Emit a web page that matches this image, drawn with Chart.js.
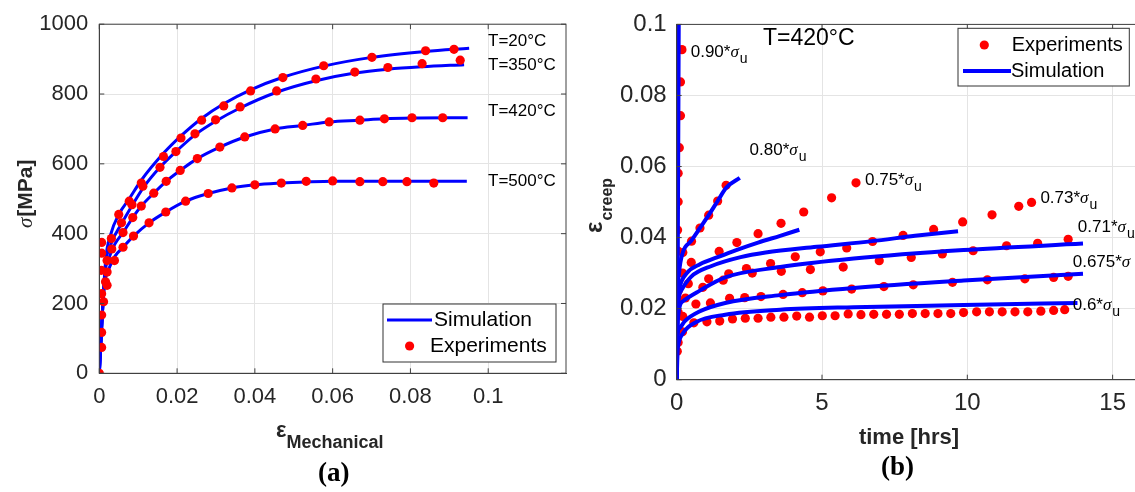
<!DOCTYPE html>
<html lang="en">
<head>
<meta charset="UTF-8">
<title>Tensile and creep curves</title>
<script src="https://cdn.jsdelivr.net/npm/chart.js"></script>
<style>
  body { margin: 0; background: #fff; width: 1135px; height: 492px; overflow: hidden; position: relative; }
  #wrapA { position: absolute; left: 0; top: 0; }
  #wrapB { position: absolute; left: 560px; top: 0; }
  .cap { position: absolute; font-family: 'Liberation Serif', 'Times New Roman', serif; font-weight: bold; font-size: 27px; color: #000; }
</style>
</head>
<body>
<div id="wrapA"><canvas id="chartA" width="580" height="492"></canvas></div>
<div id="wrapB"><canvas id="chartB" width="600" height="492"></canvas></div>
<div class="cap" style="left:318px;top:457px">(a)</div>
<div class="cap" style="left:881px;top:451px">(b)</div>
<script>
// ---- (a) tensile curves: strain [-], stress [MPa]
const strainTicks = [0, 0.02, 0.04, 0.06, 0.08, 0.1];
const stressTicks = [0, 200, 400, 600, 800, 1000];

const sim20 = [[0,0],[0.0016,320],[0.003,400],[0.005,455],[0.0077,500],[0.0108,553],[0.0165,630],[0.021,680],[0.0263,730],[0.032,772],[0.0389,812],[0.0472,848],[0.0577,880],[0.0701,905],[0.0839,922],[0.0951,931]];
const sim350 = [[0,0],[0.0015,300],[0.003,370],[0.0057,428],[0.0084,480],[0.0112,530],[0.0156,590],[0.0197,635],[0.0246,683],[0.0299,722],[0.0362,760],[0.0456,805],[0.0557,838],[0.0657,860],[0.0742,871],[0.083,878],[0.0938,884]];
const sim420 = [[0,0],[0.0014,280],[0.0025,330],[0.004,370],[0.0061,403],[0.0086,446],[0.0108,479],[0.014,516],[0.0172,550],[0.0208,581],[0.0252,615],[0.031,648],[0.0374,677],[0.0452,700],[0.0523,710],[0.0591,720],[0.067,725],[0.0733,729],[0.0804,731],[0.0947,732]];
const sim500 = [[0,0],[0.0012,240],[0.0025,300],[0.004,335],[0.0061,361],[0.0088,393],[0.0128,431],[0.0171,462],[0.0222,493],[0.028,515],[0.0341,531],[0.04,540],[0.0468,545],[0.0532,548],[0.06,550],[0.067,550],[0.0945,550]];

const exp20 = [[0.0912,928],[0.0839,924],[0.0701,905],[0.0577,881],[0.0472,847],[0.0389,809],[0.032,766],[0.0263,725],[0.021,674],[0.0165,621],[0.0108,545],[0.0077,493],[0.005,455],[0.0031,386],[0.0006,375],[0.0005,295]];
const exp350 = [[0.0928,897],[0.083,887],[0.0742,876],[0.0657,863],[0.0557,843],[0.0456,809],[0.0362,763],[0.0299,726],[0.0246,686],[0.0197,635],[0.0156,590],[0.0112,536],[0.0084,483],[0.0057,431],[0.0032,356],[0.0006,344],[0.002,290]];
const exp420 = [[0.0883,732],[0.0804,732],[0.0733,729],[0.067,725],[0.0591,720],[0.0523,710],[0.0452,700],[0.0374,677],[0.031,648],[0.0252,615],[0.0208,581],[0.0172,550],[0.014,516],[0.0108,479],[0.0086,446],[0.0061,403],[0.0039,323],[0.0016,262]];
const exp500 = [[0.086,545],[0.0791,549],[0.0729,549],[0.067,549],[0.06,551],[0.0532,550],[0.0468,545],[0.04,540],[0.0341,531],[0.028,515],[0.0222,493],[0.0171,462],[0.0128,431],[0.0088,393],[0.0061,361],[0.002,323],[0.002,252],[0.0006,228],[0.0011,205],[0.0006,167],[0.0006,117],[0.0006,74],[0,0]];

// ---- (b) creep curves at 420°C: time [hrs], creep strain [-]
const timeTicks = [0, 5, 10, 15];
const creepTicks = [0, 0.02, 0.04, 0.06, 0.08, 0.1];

const sim90 = [[0,0],[0.02,0.01],[0.03,0.02],[0.04,0.04],[0.05,0.06],[0.06,0.08],[0.07,0.1]];
const sim80 = [[0,0],[0.02,0.02],[0.08,0.03],[0.21,0.0358],[0.49,0.039],[0.8,0.0427],[1.1,0.0463],[1.41,0.0503],[1.7,0.054],[2.17,0.0568]];
const sim75 = [[0,0],[0.02,0.018],[0.1,0.026],[0.35,0.03],[0.8,0.0325],[1.41,0.0345],[2.05,0.0365],[2.8,0.0386],[3.56,0.0405],[4.22,0.0422]];
const sim73 = [[0,0],[0.02,0.017],[0.15,0.025],[0.5,0.029],[1.2,0.032],[2.2,0.0345],[3.06,0.0358],[4.82,0.0374],[6.72,0.039],[8.2,0.0405],[9.68,0.0418]];
const sim71 = [[0,0],[0.02,0.015],[0.2,0.022],[0.78,0.025],[1.67,0.0288],[3.56,0.0317],[6.09,0.0341],[9.87,0.0365],[13.98,0.0383]];
const sim675 = [[0,0],[0.02,0.012],[0.1,0.0145],[0.28,0.0165],[0.78,0.0192],[1.67,0.0216],[3.56,0.0238],[6.09,0.0258],[9.87,0.0279],[13.98,0.0298]];
const sim60 = [[0,0],[0.03,0.008],[0.05,0.0096],[0.21,0.013],[0.66,0.0162],[1.67,0.0183],[3.56,0.0197],[6.09,0.0204],[9.87,0.021],[13.79,0.0216]];

const exp90 = [[0.18,0.0929],[0.13,0.0838],[0.13,0.0743],[0.09,0.0653],[0.05,0.0581],[0.05,0.0501],[0.03,0.0421],[0.03,0.0363]];
const exp80 = [[0.05,0.03],[0.21,0.0358],[0.51,0.039],[0.8,0.0427],[1.1,0.0463],[1.41,0.0503],[1.7,0.0547]];
const exp75 = [[0.05,0.025],[0.2,0.03],[0.5,0.033],[1.46,0.0361],[2.07,0.0386],[2.8,0.0411],[3.59,0.044],[4.37,0.0472],[5.33,0.0512],[6.17,0.0554]];
const exp73 = [[0.05,0.022],[0.4,0.027],[1.1,0.0284],[1.79,0.0298],[2.4,0.0313],[3.23,0.0327],[4.08,0.0346],[4.94,0.036],[5.85,0.0371],[6.74,0.0389],[7.79,0.0406],[8.84,0.0423],[9.84,0.0444],[10.85,0.0464],[11.77,0.0488],[12.21,0.0499]];
const exp71 = [[0.05,0.019],[0.3,0.023],[0.9,0.026],[1.6,0.028],[2.6,0.03],[3.6,0.0305],[4.6,0.031],[5.73,0.0317],[6.97,0.0335],[8.07,0.0344],[9.14,0.0354],[10.2,0.0363],[11.35,0.0377],[12.42,0.0384],[13.47,0.0395]];
const exp675 = [[0.05,0.014],[0.21,0.0178],[0.66,0.0213],[1.16,0.0216],[1.82,0.0229],[2.34,0.0231],[2.9,0.0234],[3.66,0.024],[4.32,0.0245],[5.03,0.025],[6.02,0.0255],[7.13,0.0262],[8.14,0.0267],[9.49,0.0274],[10.69,0.0281],[11.98,0.0284],[12.97,0.0288],[13.47,0.0291]];
const exp60 = [[0.02,0.008],[0.05,0.0105],[0.2,0.0135],[0.59,0.016],[1.04,0.0163],[1.48,0.0165],[1.92,0.0171],[2.36,0.0173],[2.8,0.0173],[3.24,0.0176],[3.69,0.0176],[4.13,0.0179],[4.57,0.0176],[5.01,0.018],[5.45,0.018],[5.9,0.0185],[6.34,0.0183],[6.78,0.0184],[7.22,0.0184],[7.66,0.0184],[8.11,0.0186],[8.55,0.0186],[8.99,0.0186],[9.43,0.0186],[9.87,0.0189],[10.32,0.0191],[10.76,0.0191],[11.2,0.0191],[11.64,0.0191],[12.08,0.0191],[12.53,0.0193],[12.97,0.0195],[13.35,0.0197]];

const BLUE = '#0000ff';
const RED = '#ff0000';
const SANS = "'Liberation Sans', Arial, sans-serif";
const AXIS = '#404040';

const pts = arr => arr.map(p => ({ x: p[0], y: p[1] }));
const expSet = (arr, r) => ({ data: pts(arr), pointRadius: r, pointBackgroundColor: RED, pointBorderWidth: 0, showLine: false });
const simSet = (arr, w) => ({ data: pts(arr), showLine: true, pointRadius: 0, borderColor: BLUE, borderWidth: w, cubicInterpolationMode: 'monotone' });
const fmt = v => v === 0 ? '0' : String(+v.toFixed(3));

function axis(min, max, tickVals, size, pad, fit) {
  return {
    type: 'linear', min: min, max: max,
    afterBuildTicks: s => { s.ticks = tickVals.map(v => ({ value: v })); },
    afterFit: fit,
    grid: { color: '#e4e4e4', drawTicks: false },
    border: { color: AXIS },
    ticks: { padding: pad, color: '#262626', font: { family: SANS, size: size }, callback: fmt, maxRotation: 0 }
  };
}

// frame + inward tick marks like the original figure
function drawFrame(chart, xt, yt) {
  const { ctx, chartArea: a, scales } = chart;
  ctx.save();
  ctx.strokeStyle = AXIS;
  ctx.lineWidth = 1;
  ctx.strokeRect(a.left, a.top, a.right - a.left, a.bottom - a.top);
  ctx.beginPath();
  xt.forEach(v => {
    const x = scales.x.getPixelForValue(v);
    ctx.moveTo(x, a.bottom); ctx.lineTo(x, a.bottom - 5);
    ctx.moveTo(x, a.top); ctx.lineTo(x, a.top + 5);
  });
  yt.forEach(v => {
    const y = scales.y.getPixelForValue(v);
    ctx.moveTo(a.left, y); ctx.lineTo(a.left + 5, y);
    ctx.moveTo(a.right, y); ctx.lineTo(a.right - 5, y);
  });
  ctx.stroke();
  ctx.restore();
}

function drawLegend(ctx, box, font, items) {
  ctx.save();
  ctx.fillStyle = '#fff';
  ctx.fillRect(box[0], box[1], box[2] - box[0], box[3] - box[1]);
  ctx.strokeStyle = '#333';
  ctx.lineWidth = 1;
  ctx.strokeRect(box[0], box[1], box[2] - box[0], box[3] - box[1]);
  ctx.font = font;
  ctx.textBaseline = 'middle';
  items.forEach(it => {
    if (it.line) {
      ctx.strokeStyle = BLUE; ctx.lineWidth = it.w;
      ctx.beginPath(); ctx.moveTo(it.line[0], it.y); ctx.lineTo(it.line[1], it.y); ctx.stroke();
    } else {
      ctx.fillStyle = RED;
      ctx.beginPath(); ctx.arc(it.dot, it.y, it.r, 0, Math.PI * 2); ctx.fill();
    }
    ctx.fillStyle = '#000';
    ctx.fillText(it.label, it.tx, it.y);
  });
  ctx.restore();
}

// "0.80*" + italic sigma + subscript u
function sigmaLabel(ctx, pre, x, y, size, sub) {
  ctx.font = size + 'px ' + SANS;
  ctx.fillText(pre, x, y);
  let w = ctx.measureText(pre).width;
  ctx.font = 'italic ' + size + 'px ' + "'Liberation Serif', serif";
  ctx.fillText('σ', x + w, y);
  w += ctx.measureText('σ').width + 1;
  if (sub) {
    ctx.font = (size - 3) + 'px ' + SANS;
    ctx.fillText('u', x + w, y + 6);
  }
}

const chartA = new Chart(document.getElementById('chartA'), {
  type: 'scatter',
  data: {
    datasets: [
      expSet(exp20, 4.6), expSet(exp350, 4.6), expSet(exp420, 4.6), expSet(exp500, 4.6),
      simSet(sim20, 3), simSet(sim350, 3), simSet(sim420, 3), simSet(sim500, 3)
    ]
  },
  options: {
    responsive: false, animation: false,
    layout: { padding: { left: 0, right: 14, top: 22.7, bottom: 0 } },
    plugins: { legend: { display: false }, tooltip: { enabled: false } },
    scales: {
      x: axis(0, 0.12, strainTicks, 22, 10, s => { s.height = 118.7; }),
      y: axis(0, 1000, stressTicks, 22, 11, s => { s.width = 99.3; })
    }
  },
  plugins: [{
    id: 'decorA',
    afterDraw(chart) {
      const ctx = chart.ctx;
      drawFrame(chart, strainTicks, stressTicks);
      ctx.save();
      ctx.fillStyle = '#000';
      ctx.textBaseline = 'middle';
      ctx.font = '17px ' + SANS;
      ctx.fillText('T=20°C', 488, 41.7);
      ctx.fillText('T=350°C', 488, 65);
      ctx.fillText('T=420°C', 488, 111);
      ctx.fillText('T=500°C', 488, 181);
      // x title: epsilon_Mechanical
      ctx.fillStyle = '#262626';
      ctx.textBaseline = 'alphabetic';
      ctx.font = 'bold 22px ' + SANS;
      ctx.fillText('ε', 276, 437);
      const we = ctx.measureText('ε').width;
      ctx.font = 'bold 18px ' + SANS;
      ctx.fillText('Mechanical', 276 + we, 448);
      // y title: sigma[MPa]
      ctx.translate(32, 228);
      ctx.rotate(-Math.PI / 2);
      ctx.font = 'italic 21px ' + "'Liberation Serif', serif";
      ctx.fillText('σ', 0, 0);
      const ws = ctx.measureText('σ').width;
      ctx.font = 'bold 21px ' + SANS;
      ctx.fillText('[MPa]', ws + 1, 0);
      ctx.restore();
      drawLegend(ctx, [383, 304, 556, 362], '21px ' + SANS, [
        { line: [387, 432], w: 3, y: 320, label: 'Simulation', tx: 434 },
        { dot: 409.6, r: 4.6, y: 346, label: 'Experiments', tx: 430 }
      ]);
    }
  }]
});

const chartB = new Chart(document.getElementById('chartB'), {
  type: 'scatter',
  data: {
    datasets: [
      simSet(sim90, 4), simSet(sim80, 4), simSet(sim75, 4), simSet(sim73, 4), simSet(sim71, 4), simSet(sim675, 4), simSet(sim60, 4),
      expSet(exp90, 4.6), expSet(exp80, 4.6), expSet(exp75, 4.6), expSet(exp73, 4.6), expSet(exp71, 4.6), expSet(exp675, 4.6), expSet(exp60, 4.6)
    ]
  },
  options: {
    responsive: false, animation: false,
    layout: { padding: { left: 0, right: 18.3, top: 16.7, bottom: 0 } },
    plugins: { legend: { display: false }, tooltip: { enabled: false } },
    scales: {
      x: axis(0, 16, timeTicks, 24, 9, s => { s.height = 112.3; }),
      y: axis(0, 0.1, creepTicks, 24, 10, s => { s.width = 116.7; })
    }
  },
  plugins: [{
    id: 'decorB',
    afterDraw(chart) {
      const ctx = chart.ctx;
      drawFrame(chart, timeTicks, creepTicks);
      ctx.save();
      ctx.fillStyle = '#000';
      ctx.textBaseline = 'alphabetic';
      ctx.font = '23px ' + SANS;
      ctx.fillText('T=420°C', 203, 45);
      sigmaLabel(ctx, '0.90*', 130.7, 56.7, 17, true);
      sigmaLabel(ctx, '0.80*', 189.6, 155, 17, true);
      sigmaLabel(ctx, '0.75*', 305, 185, 17, true);
      sigmaLabel(ctx, '0.73*', 480.4, 202.7, 17, true);
      sigmaLabel(ctx, '0.71*', 517.8, 231.7, 17, true);
      sigmaLabel(ctx, '0.675*', 512.7, 267.3, 17, false);
      sigmaLabel(ctx, '0.6*', 512.7, 310, 17, true);
      // x title
      ctx.fillStyle = '#262626';
      ctx.font = 'bold 22px ' + SANS;
      ctx.textAlign = 'center';
      ctx.fillText('time [hrs]', 349, 444);
      ctx.textAlign = 'left';
      // y title: epsilon_creep
      ctx.translate(42, 233);
      ctx.rotate(-Math.PI / 2);
      ctx.font = 'bold 24px ' + SANS;
      ctx.fillText('ε', 0, 0);
      const we = ctx.measureText('ε').width;
      ctx.font = 'bold 16px ' + SANS;
      ctx.fillText('creep', we + 1, 10);
      ctx.restore();
      drawLegend(ctx, [398, 28.3, 569.3, 86], '20px ' + SANS, [
        { dot: 424.3, r: 4.6, y: 45, label: 'Experiments', tx: 451.7 },
        { line: [403, 451], w: 4, y: 71, label: 'Simulation', tx: 451 }
      ]);
    }
  }]
});
</script>
</body>
</html>
